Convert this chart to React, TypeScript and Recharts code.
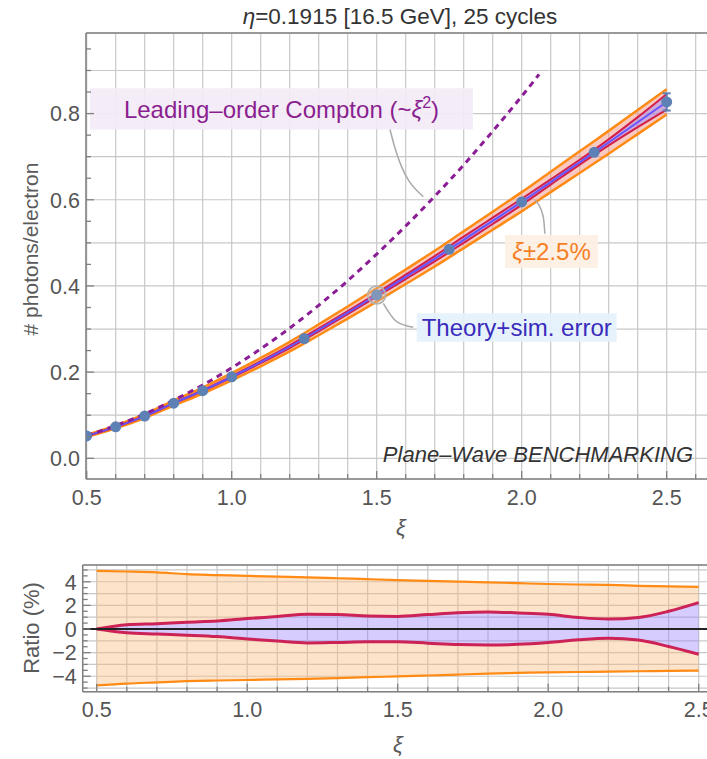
import React from 'react';
import {
  ComposedChart,
  Line,
  Area,
  Scatter,
  XAxis,
  YAxis,
  CartesianGrid,
  ReferenceLine,
  ReferenceArea,
  ReferenceDot,
  ErrorBar,
} from 'recharts';

// ---------- data ----------
// xi grid on which the theory curve and the relative bands are sampled
const xiGrid = [0.5, 0.6, 0.7, 0.8, 0.9, 1.0, 1.1, 1.2, 1.3, 1.4, 1.5, 1.6, 1.7, 1.8, 1.9, 2.0, 2.1, 2.2, 2.3, 2.4, 2.5];
// photons per electron, theory curve
const theoryYield = [0.052, 0.073, 0.098, 0.128, 0.157, 0.189, 0.223, 0.259, 0.298, 0.338, 0.379, 0.421, 0.463, 0.507, 0.551, 0.595, 0.641, 0.687, 0.733, 0.78, 0.827];
// relative spread (%) from xi +/- 2.5%
const xiBandUp = [4.92, 4.87, 4.8, 4.64, 4.57, 4.5, 4.44, 4.38, 4.3, 4.22, 4.14, 4.08, 4.02, 3.95, 3.88, 3.81, 3.77, 3.73, 3.66, 3.61, 3.56];
const xiBandDown = [-4.78, -4.62, -4.52, -4.42, -4.36, -4.32, -4.26, -4.22, -4.16, -4.08, -4.02, -3.94, -3.86, -3.78, -3.72, -3.67, -3.64, -3.61, -3.58, -3.55, -3.52];
// relative theory + simulation error (%)
const theoryErrUp = [0.0, 0.35, 0.45, 0.58, 0.68, 0.88, 1.06, 1.25, 1.22, 1.1, 1.06, 1.22, 1.38, 1.45, 1.36, 1.24, 0.98, 0.84, 0.98, 1.5, 2.23];
const theoryErrDown = [0.0, -0.32, -0.42, -0.52, -0.64, -0.84, -1.02, -1.18, -1.14, -1.08, -1.08, -1.2, -1.32, -1.36, -1.3, -1.14, -0.92, -0.79, -0.94, -1.48, -2.14];

// simulation points
const simXi = [0.5, 0.6, 0.7, 0.8, 0.9, 1.0, 1.25, 1.5, 1.75, 2.0, 2.25, 2.5];
const simYield = [0.052, 0.073, 0.098, 0.128, 0.157, 0.189, 0.278, 0.379, 0.485, 0.595, 0.71, 0.827];
const simErr = [null, null, null, null, null, null, null, null, null, null, null, 0.02];

// leading-order Compton (~xi^2)
const comptonXi = [0.5, 0.6, 0.7, 0.8, 0.9, 1.0, 1.1, 1.2, 1.3, 1.4, 1.5, 1.6, 1.7, 1.8, 1.9, 2.0, 2.06];
const comptonYield = [0.053, 0.076, 0.103, 0.135, 0.17, 0.21, 0.254, 0.302, 0.355, 0.412, 0.474, 0.539, 0.608, 0.681, 0.759, 0.84, 0.891];

// axis ticks
const topXTicks = [0.5, 0.6, 0.7, 0.8, 0.9, 1.0, 1.1, 1.2, 1.3, 1.4, 1.5, 1.6, 1.7, 1.8, 1.9, 2.0, 2.1, 2.2, 2.3, 2.4, 2.5, 2.6];
const bottomXTicks = [0.5, 0.6, 0.7, 0.8, 0.9, 1.0, 1.1, 1.2, 1.3, 1.4, 1.5, 1.6, 1.7, 1.8, 1.9, 2.0, 2.1, 2.2, 2.3, 2.4, 2.5];
const xLabels = [0.5, 1.0, 1.5, 2.0, 2.5];
const topYTicks = [0, 0.05, 0.1, 0.15, 0.2, 0.25, 0.3, 0.35, 0.4, 0.45, 0.5, 0.55, 0.6, 0.65, 0.7, 0.75, 0.8, 0.85, 0.9, 0.95];
const topYLabels = [0, 0.2, 0.4, 0.6, 0.8];
const topYGrid = [0, 0.1, 0.2, 0.3, 0.4, 0.5, 0.6, 0.7, 0.8, 0.9];
const bottomYTicks = [-5, -4.5, -4, -3.5, -3, -2.5, -2, -1.5, -1, -0.5, 0, 0.5, 1, 1.5, 2, 2.5, 3, 3.5, 4, 4.5, 5];
const bottomYLabels = [-4, -2, 0, 2, 4];
const bottomYGrid = [-5, -4, -3, -2, -1, 0, 1, 2, 3, 4, 5];

// callout leaders (data coordinates)
const comptonLeader = [
  { xi: 1.546, y: 0.763 },
  { xi: 1.56, y: 0.727 },
  { xi: 1.661, y: 0.607 },
];
const bandLeader = [
  { xi: 2.046, y: 0.599 },
  { xi: 2.0745, y: 0.5606 },
  { xi: 2.08, y: 0.521 },
];
const theoryLeader = [
  { xi: 1.523, y: 0.3596 },
  { xi: 1.569, y: 0.317 },
  { xi: 1.626, y: 0.304 },
];

// ---------- derived tables ----------
const mainRows = xiGrid.map((xi, i) => {
  const y = theoryYield[i];
  const oHi = y * (1 + xiBandUp[i] / 100);
  const oLo = y * (1 + xiBandDown[i] / 100);
  const tHi = y * (1 + theoryErrUp[i] / 100);
  const tLo = y * (1 + theoryErrDown[i] / 100);
  return { xi, y, oHi, oLo, tHi, tLo, xiBand: [oLo, oHi], theoryBand: [tLo, tHi] };
});

const simRows = simXi.map((xi, i) => ({ xi, y: simYield[i], err: simErr[i] }));
const simErrRows = simRows.filter((r) => r.err != null);
const comptonRows = comptonXi.map((xi, i) => ({ xi, y: comptonYield[i] }));

const ratioRows = xiGrid.map((xi, i) => ({
  xi,
  oHi: xiBandUp[i],
  oLo: xiBandDown[i],
  tHi: theoryErrUp[i],
  tLo: theoryErrDown[i],
  bandHigh: [theoryErrUp[i], xiBandUp[i]],
  bandLow: [xiBandDown[i], theoryErrDown[i]],
  theory: [theoryErrDown[i], theoryErrUp[i]],
}));

// ---------- styling ----------
const FONT = '"Liberation Sans", Arial, Helvetica, sans-serif';
const FRAME = '#808080';
const GRID = '#c8c8c8';
const TICK_TEXT = '#555555';
const ORANGE = '#ff8a14';
const RED = '#d2204a';
const BLUE = '#6655ff';
const POINT = '#5E81B5';
const PURPLE = '#8a1d95';

const X_TOP: [number, number] = [0.4976, 2.6735];
const Y_TOP: [number, number] = [-0.048, 0.987];
const X_BOT: [number, number] = [0.4535, 2.5475];
const Y_BOT: [number, number] = [-5.31, 5.42];

const near = (list: number[], v: number) => list.some((l) => Math.abs(l - v) < 1e-6);

const makeXTick = (labels: number[]) => (props: any) => {
  const { x, y, payload } = props;
  const v = payload.value as number;
  const lab = near(labels, v);
  return (
    <g>
      <line x1={x} x2={x} y1={y} y2={y - (lab ? 8 : 5)} stroke={FRAME} strokeWidth={1.3} />
      {lab && (
        <text x={x} y={y + 25.5} textAnchor="middle" fontSize={21.5} fill={TICK_TEXT} fontFamily={FONT}>
          {v.toFixed(1)}
        </text>
      )}
    </g>
  );
};

const makeYTick = (labels: number[], fmt: (v: number) => string) => (props: any) => {
  const { x, y, payload } = props;
  const v = payload.value as number;
  const lab = near(labels, v);
  return (
    <g>
      <line x1={x} x2={x + (lab ? 8 : 5)} y1={y} y2={y} stroke={FRAME} strokeWidth={1.3} />
      {lab && (
        <text x={x - 6} y={y} dy="0.36em" textAnchor="end" fontSize={21.5} fill={TICK_TEXT} fontFamily={FONT}>
          {fmt(v)}
        </text>
      )}
    </g>
  );
};

const boxText = (content: React.ReactNode, color: string) => (p: any) => {
  const vb = p.viewBox || {};
  return (
    <text
      x={vb.x + vb.width / 2}
      y={vb.y + vb.height / 2}
      dy="0.36em"
      textAnchor="middle"
      fontSize={24}
      fill={color}
      fontFamily={FONT}
    >
      {content}
    </text>
  );
};

const dot = (p: any) => <circle cx={p.cx} cy={p.cy} r={5.5} fill={POINT} />;
const noShape = () => <g />;

export default function App() {
  return (
    <div
      style={{
        position: 'absolute',
        left: 0,
        top: 0,
        width: 707,
        height: 759,
        overflow: 'hidden',
        background: '#ffffff',
        fontFamily: FONT,
      }}
    >
      {/* main panel */}
      <div style={{ position: 'absolute', left: 0, top: 0 }}>
        <ComposedChart width={717} height={540} data={mainRows} margin={{ top: 33, right: 0, bottom: 0, left: 0 }}>
          <CartesianGrid stroke={GRID} strokeWidth={1.2} yAxisId="grid" />
          <XAxis
            type="number"
            dataKey="xi"
            domain={X_TOP}
            allowDataOverflow
            ticks={topXTicks}
            interval={0}
            tickSize={0}
            tickMargin={0}
            height={61}
            tick={makeXTick(xLabels)}
            tickLine={false}
            axisLine={{ stroke: FRAME, strokeWidth: 1.5 }}
          />
          <YAxis
            type="number"
            domain={Y_TOP}
            allowDataOverflow
            ticks={topYTicks}
            interval={0}
            tickSize={0}
            tickMargin={0}
            width={86}
            tick={makeYTick(topYLabels, (v) => v.toFixed(1))}
            tickLine={false}
            axisLine={{ stroke: FRAME, strokeWidth: 1.5 }}
          />
          <YAxis yAxisId="grid" type="number" domain={Y_TOP} allowDataOverflow ticks={topYGrid} interval={0} hide />
          <ReferenceLine y={Y_TOP[1]} stroke={FRAME} strokeWidth={1.5} />

          <ReferenceArea
            x1={0.5114}
            x2={1.832}
            y1={0.7633}
            y2={0.8585}
            fill="#f3ecf7"
            fillOpacity={0.92}
            stroke="none"
            label={boxText(
              <>
                <tspan>Leading–order Compton (~</tspan>
                <tspan fontStyle="italic">ξ</tspan>
                <tspan dy={-10} fontSize={16}>2</tspan>
                <tspan dy={10}>)</tspan>
              </>,
              '#8a1f8f'
            )}
          />
          <ReferenceArea
            x1={1.9424}
            x2={2.263}
            y1={0.4416}
            y2={0.5181}
            fill="#fdf0e4"
            fillOpacity={0.92}
            stroke="none"
            label={boxText(
              <>
                <tspan fontStyle="italic">ξ</tspan>
                <tspan>±2.5%</tspan>
              </>,
              '#f57f24'
            )}
          />
          <ReferenceArea
            x1={1.638}
            x2={2.3276}
            y1={0.2705}
            y2={0.3364}
            fill="#e5f2fc"
            fillOpacity={0.92}
            stroke="none"
            label={boxText(<tspan>Theory+sim. error</tspan>, '#3a2cbb')}
          />

          <Area
            dataKey="xiBand"
            type="monotone"
            fill="#f28a78"
            fillOpacity={0.45}
            stroke="none"
            isAnimationActive={false}
          />
          <Area
            dataKey="theoryBand"
            type="monotone"
            fill="#9c80fc"
            fillOpacity={0.45}
            stroke="none"
            isAnimationActive={false}
          />
          <Line dataKey="oHi" type="monotone" stroke={ORANGE} strokeWidth={2.5} dot={false} isAnimationActive={false} />
          <Line dataKey="oLo" type="monotone" stroke={ORANGE} strokeWidth={2.5} dot={false} isAnimationActive={false} />
          <Line dataKey="tHi" type="monotone" stroke={RED} strokeWidth={2} dot={false} isAnimationActive={false} />
          <Line dataKey="tLo" type="monotone" stroke={RED} strokeWidth={2} dot={false} isAnimationActive={false} />
          <Line dataKey="y" type="monotone" stroke={BLUE} strokeWidth={2} dot={false} isAnimationActive={false} />

          <Line
            data={comptonRows}
            dataKey="y"
            type="monotone"
            stroke={PURPLE}
            strokeWidth={3}
            strokeDasharray="6 5"
            dot={false}
            isAnimationActive={false}
          />

          <Line data={comptonLeader} dataKey="y" type="monotone" stroke="#a9a9a9" strokeWidth={1.5} dot={false} isAnimationActive={false} />
          <Line data={bandLeader} dataKey="y" type="monotone" stroke="#a9a9a9" strokeWidth={1.5} dot={false} isAnimationActive={false} />
          <Line data={theoryLeader} dataKey="y" type="monotone" stroke="#a9a9a9" strokeWidth={1.5} dot={false} isAnimationActive={false} />

          <Scatter data={simRows} dataKey="y" shape={dot} isAnimationActive={false} />
          <Scatter data={simErrRows} dataKey="y" shape={noShape} isAnimationActive={false}>
            <ErrorBar dataKey="err" direction="y" width={4} stroke={POINT} strokeWidth={2} />
          </Scatter>
          <ReferenceDot
            x={simXi[7]}
            y={simYield[7]}
            r={9}
            fill="#bfbfbf"
            fillOpacity={0.35}
            stroke="#b0b0b0"
            strokeWidth={1.5}
          />
        </ComposedChart>
      </div>

      {/* ratio panel */}
      <div style={{ position: 'absolute', left: 0, top: 545 }}>
        <ComposedChart width={713} height={214} data={ratioRows} margin={{ top: 20, right: 0, bottom: 0, left: 0 }}>
          <CartesianGrid stroke={GRID} strokeWidth={1.2} yAxisId="grid" />
          <XAxis
            type="number"
            dataKey="xi"
            domain={X_BOT}
            allowDataOverflow
            ticks={bottomXTicks}
            interval={0}
            tickSize={0}
            tickMargin={0}
            height={67.3}
            tick={makeXTick(xLabels)}
            tickLine={false}
            axisLine={{ stroke: FRAME, strokeWidth: 1.5 }}
          />
          <YAxis
            type="number"
            domain={Y_BOT}
            allowDataOverflow
            ticks={bottomYTicks}
            interval={0}
            tickSize={0}
            tickMargin={0}
            width={82.7}
            tick={makeYTick(bottomYLabels, (v) => (v < 0 ? '−' + Math.abs(v) : String(v)))}
            tickLine={false}
            axisLine={{ stroke: FRAME, strokeWidth: 1.5 }}
          />
          <YAxis yAxisId="grid" type="number" domain={Y_BOT} allowDataOverflow ticks={bottomYGrid} interval={0} hide />
          <ReferenceLine y={Y_BOT[1]} stroke={FRAME} strokeWidth={1.5} />

          <Area dataKey="bandHigh" type="monotone" fill="#fbb87a" fillOpacity={0.4} stroke="none" isAnimationActive={false} />
          <Area dataKey="bandLow" type="monotone" fill="#fbb87a" fillOpacity={0.4} stroke="none" isAnimationActive={false} />
          <Area dataKey="theory" type="monotone" fill="#9c80fc" fillOpacity={0.4} stroke="none" isAnimationActive={false} />
          <Line dataKey="oHi" type="monotone" stroke={ORANGE} strokeWidth={2.2} dot={false} isAnimationActive={false} />
          <Line dataKey="oLo" type="monotone" stroke={ORANGE} strokeWidth={2.2} dot={false} isAnimationActive={false} />
          <Line dataKey="tHi" type="monotone" stroke="#cc2255" strokeWidth={3} dot={false} isAnimationActive={false} />
          <Line dataKey="tLo" type="monotone" stroke="#cc2255" strokeWidth={3} dot={false} isAnimationActive={false} />
          <ReferenceLine y={0} stroke="#222222" strokeWidth={2} />
        </ComposedChart>
      </div>

      {/* titles and axis labels */}
      <svg
        width={707}
        height={759}
        style={{ position: 'absolute', left: 0, top: 0, pointerEvents: 'none' }}
        fontFamily={FONT}
      >
        <text x={400} y={24} textAnchor="middle" fontSize={22.5} fill="#333333">
          <tspan fontStyle="italic">η</tspan>=0.1915 [16.5 GeV], 25 cycles
        </text>
        <text
          transform="translate(30,249) rotate(-90)"
          textAnchor="middle"
          dy="0.36em"
          fontSize={21}
          fill="#5a5a5a"
        >
          # photons/electron
        </text>
        <text x={401} y={535} textAnchor="middle" fontSize={22} fontStyle="italic" fill="#5a5a5a">
          ξ
        </text>
        <text x={693} y={462} textAnchor="end" fontSize={22} fontStyle="italic" fill="#333333">
          Plane–Wave BENCHMARKING
        </text>
        <text
          transform="translate(31,628) rotate(-90)"
          textAnchor="middle"
          dy="0.36em"
          fontSize={22}
          fill="#5a5a5a"
        >
          Ratio (%)
        </text>
        <text x={398} y={752} textAnchor="middle" fontSize={22} fontStyle="italic" fill="#5a5a5a">
          ξ
        </text>
      </svg>
    </div>
  );
}
